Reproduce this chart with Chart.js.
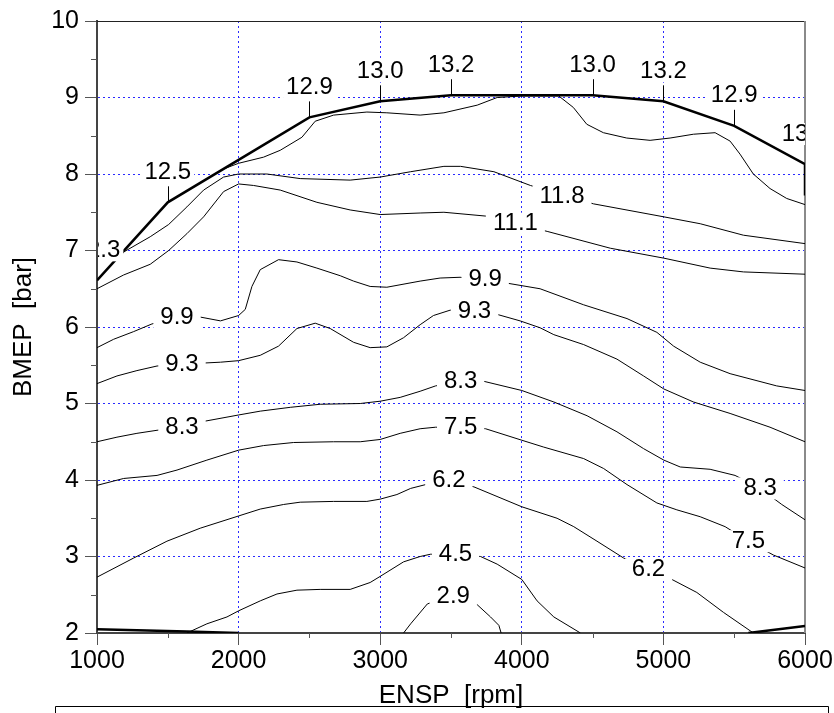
<!DOCTYPE html>
<html>
<head>
<meta charset="utf-8">
<script src="https://cdn.jsdelivr.net/npm/chart.js@4.4.1/dist/chart.umd.min.js"></script>
<style>
  html, body { margin: 0; padding: 0; background: #fff; }
</style>
</head>
<body>
<canvas id="map" width="834" height="713"></canvas>
<script>
const FONT = "Arial, 'Liberation Sans', sans-serif";

// full load line, with the value written above each point
const fullRpm = [1000, 1500, 2500, 3000, 3500, 4500, 5000, 5500, 6000, 6000];
const fullBmep = [6.61, 7.63, 8.74, 8.95, 9.03, 9.03, 8.95, 8.63, 8.13, 7.72];
const fullLabels = ['12.3', '12.5', '12.9', '13.0', '13.2', '13.0', '13.2', '12.9', '13.1'];

// lower limit lines
const lowLeftRpm = [1000, 1635, 2000];
const lowLeftBmep = [2.05, 2.02, 2.0];
const lowRightRpm = [5600, 6000];
const lowRightBmep = [2.0, 2.09];

// iso lines
const topRpm = [1900, 2000, 2176, 2294, 2447, 2541, 2671, 2906, 3047, 3282, 3450, 3685, 3826, 4000, 4261, 4364, 4459, 4576, 4741, 4906, 5047, 5212, 5365, 5471, 5541, 5635, 5753, 5871, 6000];
const topBmep = [8.07, 8.14, 8.22, 8.31, 8.48, 8.69, 8.77, 8.81, 8.80, 8.77, 8.80, 8.90, 9.00, 9.02, 9.02, 8.87, 8.65, 8.54, 8.47, 8.44, 8.47, 8.52, 8.54, 8.43, 8.26, 8.00, 7.81, 7.68, 7.60];

const c118Rpm = [1150, 1188, 1376, 1506, 1635, 1753, 1894, 2000, 2200, 2435, 2788, 3000, 3215, 3450, 3568, 3803, 4061, 4284, 4506, 5003, 5260, 5565, 6000];
const c118Bmep = [6.91, 6.98, 7.18, 7.34, 7.57, 7.79, 7.96, 8.00, 8.00, 7.94, 7.92, 7.96, 8.03, 8.10, 8.10, 8.03, 7.85, 7.73, 7.61, 7.44, 7.35, 7.20, 7.09];

const c111Rpm = [1000, 1188, 1376, 1506, 1635, 1753, 1894, 2000, 2106, 2294, 2553, 2788, 3000, 3282, 3450, 3744, 3955, 4179, 4625, 5003, 5330, 5565, 6000];
const c111Bmep = [6.50, 6.68, 6.82, 7.00, 7.22, 7.44, 7.77, 7.87, 7.85, 7.79, 7.63, 7.53, 7.47, 7.49, 7.50, 7.45, 7.35, 7.25, 7.03, 6.90, 6.77, 6.72, 6.69];

const c99Rpm = [1000, 1118, 1259, 1388, 1565, 1729, 1872, 2000, 2047, 2094, 2153, 2282, 2412, 2553, 2718, 2812, 2929, 3047, 3282, 3423, 3564, 3741, 3906, 4129, 4437, 4743, 4954, 5072, 5260, 5471, 5800, 6000];
const c99Bmep = [5.73, 5.84, 5.94, 6.04, 6.12, 6.13, 6.08, 6.15, 6.23, 6.53, 6.75, 6.88, 6.85, 6.77, 6.67, 6.60, 6.53, 6.52, 6.60, 6.64, 6.65, 6.62, 6.57, 6.50, 6.29, 6.11, 5.93, 5.75, 5.54, 5.39, 5.23, 5.17];

const c93Rpm = [1000, 1141, 1282, 1424, 1600, 1765, 1872, 2000, 2153, 2282, 2412, 2541, 2647, 2812, 2929, 3047, 3165, 3282, 3376, 3494, 3666, 3835, 3988, 4129, 4226, 4437, 4672, 4860, 5003, 5212, 5471, 5753, 6000];
const c93Bmep = [5.26, 5.36, 5.43, 5.49, 5.51, 5.53, 5.54, 5.56, 5.63, 5.75, 5.98, 6.05, 5.98, 5.80, 5.73, 5.74, 5.86, 6.03, 6.15, 6.22, 6.20, 6.16, 6.08, 5.99, 5.90, 5.77, 5.58, 5.36, 5.19, 5.02, 4.87, 4.69, 4.50];

const c83Rpm = [1000, 1141, 1282, 1424, 1600, 1765, 2000, 2153, 2365, 2576, 2859, 3000, 3141, 3282, 3391, 3568, 3732, 4000, 4226, 4461, 4672, 4860, 5003, 5119, 5330, 5506, 5683, 5836, 6000];
const c83Bmep = [4.50, 4.56, 4.61, 4.65, 4.69, 4.77, 4.85, 4.90, 4.95, 4.99, 5.00, 5.03, 5.08, 5.16, 5.23, 5.29, 5.29, 5.17, 5.02, 4.84, 4.63, 4.41, 4.26, 4.17, 4.14, 4.06, 3.89, 3.68, 3.48];

const c75Rpm = [1000, 1188, 1424, 1565, 1776, 2000, 2176, 2388, 2671, 2859, 3000, 3141, 3282, 3391, 3568, 3744, 4000, 4155, 4437, 4578, 4743, 4954, 5095, 5260, 5436, 5600, 5776, 6000];
const c75Bmep = [3.93, 4.02, 4.06, 4.13, 4.26, 4.39, 4.45, 4.49, 4.50, 4.50, 4.53, 4.61, 4.67, 4.69, 4.69, 4.67, 4.52, 4.43, 4.28, 4.15, 3.94, 3.70, 3.61, 3.52, 3.39, 3.20, 3.02, 2.85];

const c62Rpm = [1000, 1259, 1494, 1729, 2000, 2153, 2318, 2435, 2671, 2906, 3000, 3118, 3215, 3321, 3485, 3662, 4000, 4249, 4367, 4531, 4719, 4895, 5060, 5236, 5424, 5612, 5636];
const c62Bmep = [2.73, 2.98, 3.20, 3.37, 3.53, 3.62, 3.68, 3.71, 3.72, 3.72, 3.75, 3.81, 3.89, 3.94, 3.99, 3.91, 3.65, 3.50, 3.39, 3.20, 2.98, 2.83, 2.70, 2.53, 2.27, 2.03, 2.00];

const c45Rpm = [1635, 1776, 1918, 2000, 2153, 2271, 2412, 2576, 2788, 2929, 3000, 3165, 3282, 3356, 3532, 3709, 3826, 4000, 4108, 4226, 4414];
const c45Bmep = [2.00, 2.12, 2.21, 2.29, 2.42, 2.51, 2.56, 2.57, 2.57, 2.66, 2.74, 2.93, 3.00, 3.03, 3.03, 3.00, 2.90, 2.70, 2.42, 2.21, 2.00];

const c29Rpm = [3165, 3215, 3333, 3516, 3685, 3779, 3838, 3854];
const c29Bmep = [2.00, 2.12, 2.38, 2.50, 2.37, 2.21, 2.10, 2.00];

// labels sitting on the iso lines
const labelText = ['9.9', '9.9', '9.3', '9.3', '8.3', '8.3', '8.3', '7.5', '7.5', '6.2', '6.2', '4.5', '2.9', '11.8', '11.1'];
const labelRpm = [1565, 3741, 1600, 3666, 1600, 3568, 5683, 3568, 5600, 3485, 4895, 3532, 3516, 4284, 3955];
const labelBmep = [6.12, 6.62, 5.51, 6.20, 4.69, 5.29, 3.89, 4.69, 3.20, 3.99, 2.83, 3.03, 2.48, 7.71, 7.35];

// small ticks between the numbered ones
const minorRpm = [1500, 2500, 3500, 4500, 5500];
const minorBmep = [2.5, 3.5, 4.5, 5.5, 6.5, 7.5, 8.5, 9.5];

const line = (rpm, bmep, width) => ({
  data: rpm.map((r, i) => ({ x: r, y: bmep[i] })),
  showLine: true,
  borderColor: '#000',
  borderWidth: width,
  pointRadius: 0,
  tension: 0,
  fill: false
});

const framePlugin = {
  id: 'frame',
  beforeDatasetsDraw(chart) {
    const { ctx, chartArea: a, scales: { x, y } } = chart;
    ctx.save();
    ctx.lineWidth = 1;
    ctx.strokeStyle = '#222';
    ctx.beginPath();
    ctx.moveTo(a.left, a.top + 0.5);
    ctx.lineTo(a.right, a.top + 0.5);
    ctx.stroke();
    ctx.strokeStyle = '#8a8a8a';
    ctx.lineWidth = 2;
    ctx.beginPath();
    ctx.moveTo(a.right, a.top);
    ctx.lineTo(a.right, a.bottom);
    ctx.stroke();
    ctx.strokeStyle = '#555';
    ctx.lineWidth = 1;
    ctx.beginPath();
    minorRpm.forEach(v => {
      const px = Math.round(x.getPixelForValue(v)) + 0.5;
      ctx.moveTo(px, a.bottom);
      ctx.lineTo(px, a.bottom + 5);
    });
    minorBmep.forEach(v => {
      const py = Math.round(y.getPixelForValue(v)) + 0.5;
      ctx.moveTo(a.left - 6, py);
      ctx.lineTo(a.left, py);
    });
    ctx.stroke();
    ctx.restore();
  },
  afterDraw(chart) {
    // edge of the box that sits under the chart
    const ctx = chart.ctx;
    ctx.save();
    ctx.strokeStyle = '#000';
    ctx.lineWidth = 1;
    ctx.beginPath();
    ctx.moveTo(55.5, chart.height + 2);
    ctx.lineTo(55.5, 706.5);
    ctx.lineTo(828.5, 706.5);
    ctx.lineTo(828.5, chart.height + 2);
    ctx.stroke();
    ctx.restore();
  }
};

const labelPlugin = {
  id: 'isoLabels',
  afterDatasetsDraw(chart) {
    const { ctx, chartArea: a, scales: { x, y } } = chart;
    ctx.save();
    ctx.beginPath();
    ctx.rect(a.left + 1, a.top, a.right - a.left - 1, a.bottom - a.top);
    ctx.clip();
    ctx.font = '24px ' + FONT;
    ctx.textAlign = 'center';
    ctx.textBaseline = 'middle';
    const tag = (txt, px, py, padX) => {
      const w = ctx.measureText(txt).width + 2 * padX;
      ctx.fillStyle = '#fff';
      ctx.fillRect(px - w / 2, py - 11, w, 22);
      ctx.fillStyle = '#000';
      ctx.fillText(txt, px, py);
    };
    labelText.forEach((t, i) => tag(t, x.getPixelForValue(labelRpm[i]), y.getPixelForValue(labelBmep[i]), 7));
    fullLabels.forEach((t, i) => {
      const px = x.getPixelForValue(fullRpm[i]);
      const py = y.getPixelForValue(fullBmep[i]);
      ctx.strokeStyle = '#000';
      ctx.lineWidth = 1;
      ctx.beginPath();
      ctx.moveTo(Math.round(px) + 0.5, py);
      ctx.lineTo(Math.round(px) + 0.5, py - 16);
      ctx.stroke();
      tag(t, px, py - 30, 3);
    });
    ctx.restore();
  }
};

const gridColor = (lo, hi) => c => (c.tick && c.tick.value > lo && c.tick.value < hi) ? '#2a2aff' : 'rgba(0,0,0,0)';

new Chart(document.getElementById('map'), {
  type: 'scatter',
  data: {
    datasets: [
      line(fullRpm, fullBmep, 2.5),
      line(lowLeftRpm, lowLeftBmep, 2.5),
      line(lowRightRpm, lowRightBmep, 2.5),
      line(topRpm, topBmep, 1),
      line(c118Rpm, c118Bmep, 1),
      line(c111Rpm, c111Bmep, 1),
      line(c99Rpm, c99Bmep, 1),
      line(c93Rpm, c93Bmep, 1),
      line(c83Rpm, c83Bmep, 1),
      line(c75Rpm, c75Bmep, 1),
      line(c62Rpm, c62Bmep, 1),
      line(c45Rpm, c45Bmep, 1),
      line(c29Rpm, c29Bmep, 1)
    ]
  },
  options: {
    responsive: false,
    animation: false,
    devicePixelRatio: 1,
    layout: { padding: { left: 0, right: 29, top: 16, bottom: 0 } },
    plugins: { legend: { display: false }, tooltip: { enabled: false } },
    scales: {
      x: {
        type: 'linear',
        min: 1000,
        max: 6000,
        afterFit: s => { s.height = 80; },
        ticks: { stepSize: 1000, autoSkip: false, maxRotation: 0, padding: 1, color: '#000', font: { size: 25, family: FONT }, callback: v => String(v) },
        grid: { color: gridColor(1000, 6000), lineWidth: 1, tickLength: 12, tickColor: '#555', tickWidth: 1 },
        border: { display: true, color: '#444', width: 2, dash: [2, 3] },
        title: { display: true, text: 'ENSP  [rpm]', color: '#000', font: { size: 26, family: FONT }, padding: { top: 0, bottom: 2 } }
      },
      y: {
        type: 'linear',
        min: 2,
        max: 10,
        afterFit: s => { s.width = 97; },
        ticks: { stepSize: 1, autoSkip: false, padding: 6, color: '#000', font: { size: 25, family: FONT }, callback: v => String(v) },
        grid: { color: gridColor(2, 10), lineWidth: 1, tickLength: 12, tickColor: '#555', tickWidth: 1 },
        border: { display: true, color: '#444', width: 2, dash: [2, 3] },
        title: { display: true, text: 'BMEP  [bar]', color: '#000', font: { size: 26, family: FONT }, padding: { top: 8, bottom: 0 } }
      }
    }
  },
  plugins: [framePlugin, labelPlugin]
});
</script>
</body>
</html>
